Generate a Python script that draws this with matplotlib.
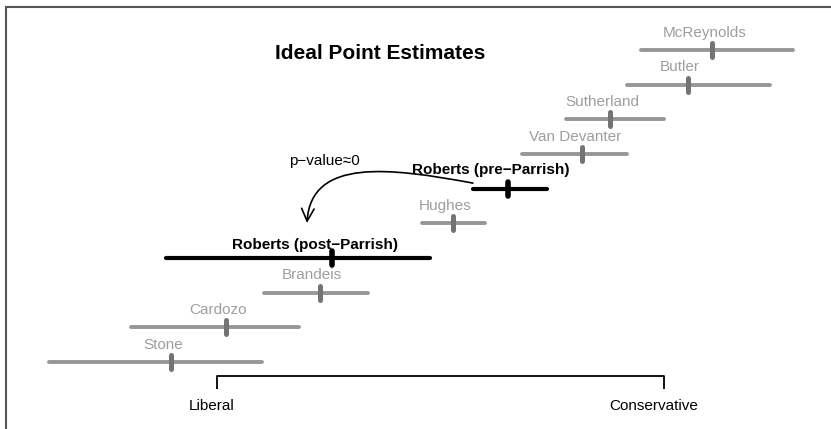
import matplotlib
matplotlib.use('Agg')
import matplotlib.pyplot as plt
from matplotlib.patches import FancyArrowPatch, Rectangle
from matplotlib.path import Path
import numpy as np

plt.rcParams['font.family'] = ['Liberation Sans', 'DejaVu Sans']

# ideal point estimates (posterior mean and interval), bottom row first
justices = ['Stone', 'Cardozo', 'Brandeis', 'Roberts (post\u2212Parrish)', 'Hughes',
            'Roberts (pre\u2212Parrish)', 'Van Devanter', 'Sutherland', 'Butler', 'McReynolds']
means = [-2.41, -1.92, -1.08, -0.97, 0.11, 0.60, 1.27, 1.52, 2.21, 2.43]
lows = [-3.50, -2.77, -1.58, -2.46, -0.17, 0.29, 0.73, 1.12, 1.67, 1.79]
highs = [-1.60, -1.27, -0.65, -0.09, 0.40, 0.95, 1.67, 2.00, 2.95, 3.15]
highlight = [False, False, False, True, False, True, False, False, False, False]

scale_ends = [-2.0, 2.0]
scale_labels = ['Liberal', 'Conservative']

GRAY_LINE = '#979797'
GRAY_TICK = '#737373'
GRAY_TEXT = '#9e9e9e'

fig = plt.figure(figsize=(8.31, 4.29), dpi=100)
ax = fig.add_axes([0, 0, 1, 1])
ax.set_xlim(-3.942, 3.494)
ax.set_ylim(-0.932, 11.441)
ax.axis('off')

rows = np.arange(1, len(justices) + 1)
for row, name, m, lo, hi, hl in zip(rows, justices, means, lows, highs, highlight):
    if hl:
        ax.plot([lo, hi], [row, row], color='black', lw=3.0, solid_capstyle='round', zorder=3)
        ax.plot([m, m], [row - 0.2, row + 0.2], color='black', lw=4.0,
                solid_capstyle='round', zorder=4)
        dy = 0.55 if 'pre' in name else 0.38
        ax.text(m - 0.15, row + dy, name, ha='center', va='center', fontsize=11,
                fontweight='bold', color='black')
    else:
        ax.plot([lo, hi], [row, row], color=GRAY_LINE, lw=2.8, solid_capstyle='round', zorder=2)
        ax.plot([m, m], [row - 0.2, row + 0.2], color=GRAY_TICK, lw=3.6,
                solid_capstyle='round', zorder=3)
        ax.text(m - 0.07, row + 0.5, name, ha='center', va='center', fontsize=11,
                color=GRAY_TEXT)

# liberal / conservative bracket
ax.plot([scale_ends[0], scale_ends[0], scale_ends[1], scale_ends[1]],
        [0.22, 0.6, 0.6, 0.22], color='black', lw=1.3, solid_capstyle='butt')
ax.text(scale_ends[0] - 0.05, -0.27, scale_labels[0], ha='center', va='center', fontsize=11)
ax.text(scale_ends[1] - 0.09, -0.27, scale_labels[1], ha='center', va='center', fontsize=11)

ax.text(-0.54, 9.91, 'Ideal Point Estimates', ha='center', va='center',
        fontsize=15, fontweight='bold')
ax.text(-1.04, 6.80, 'p\u2212value\u22480', ha='center', va='center', fontsize=11)

# arrow from pre- to post-Parrish
verts = [(0.29, 6.16), (-0.45, 6.60), (-1.16, 6.90), (-1.195, 5.01)]
codes = [Path.MOVETO, Path.CURVE4, Path.CURVE4, Path.CURVE4]
arrow = FancyArrowPatch(path=Path(verts, codes), arrowstyle='->,head_length=0.9,head_width=0.45',
                        mutation_scale=10, color='black', lw=1.2)
ax.add_patch(arrow)

# frame (only left and top visible)
fig.patches.append(Rectangle((6 / 831, -0.2), 1.2, 1.2 - 7 / 429,
                             transform=fig.transFigure, fill=False,
                             edgecolor='#555555', lw=1.5))

fig.savefig('out.png', dpi=100)
